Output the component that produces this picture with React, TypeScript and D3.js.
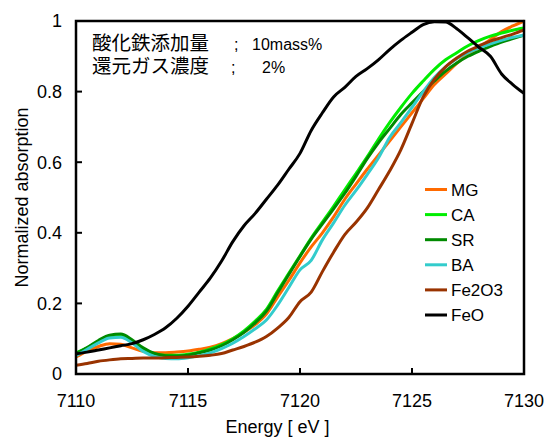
import { scaleLinear, line, curveMonotoneX } from 'd3'

const width = 547
const height = 439

const margin = { top: 21, right: 23, bottom: 65, left: 76 }

// energy grid [eV]
const energy = [
  7110, 7110.5, 7111, 7111.5, 7112, 7112.5, 7113, 7113.5, 7114, 7114.5,
  7115, 7115.5, 7116, 7116.5, 7117, 7117.5, 7118, 7118.5, 7119, 7119.5,
  7120, 7120.5, 7121, 7121.5, 7122, 7122.5, 7123, 7123.5, 7124, 7124.5,
  7125, 7125.5, 7126, 7126.5, 7127, 7127.5, 7128, 7128.5, 7129, 7129.5, 7130
]

const mg = [
  0.048, 0.065, 0.078, 0.086, 0.084, 0.074, 0.064, 0.060, 0.060, 0.062,
  0.065, 0.070, 0.076, 0.086, 0.100, 0.118, 0.140, 0.170, 0.218, 0.265,
  0.315, 0.360, 0.400, 0.445, 0.495, 0.538, 0.580, 0.620, 0.660, 0.700,
  0.740, 0.780, 0.820, 0.850, 0.880, 0.905, 0.925, 0.948, 0.970, 0.986, 1.0
]

const ca = [
  0.060, 0.074, 0.092, 0.104, 0.106, 0.092, 0.070, 0.057, 0.053, 0.053,
  0.056, 0.062, 0.071, 0.083, 0.100, 0.122, 0.150, 0.183, 0.235, 0.285,
  0.335, 0.385, 0.430, 0.475, 0.522, 0.568, 0.615, 0.665, 0.712, 0.755,
  0.795, 0.830, 0.863, 0.890, 0.910, 0.930, 0.945, 0.957, 0.966, 0.974, 0.980
]

const sr = [
  0.058, 0.075, 0.095, 0.110, 0.113, 0.097, 0.074, 0.058, 0.052, 0.051,
  0.053, 0.060, 0.068, 0.080, 0.097, 0.118, 0.145, 0.178, 0.230, 0.282,
  0.333, 0.382, 0.425, 0.468, 0.512, 0.560, 0.610, 0.655, 0.695, 0.735,
  0.768, 0.800, 0.830, 0.858, 0.881, 0.900, 0.915, 0.928, 0.940, 0.950, 0.960
]

const ba = [
  0.052, 0.070, 0.088, 0.102, 0.104, 0.088, 0.064, 0.050, 0.044, 0.043,
  0.046, 0.052, 0.060, 0.072, 0.087, 0.106, 0.128, 0.153, 0.195, 0.245,
  0.295, 0.322, 0.380, 0.428, 0.478, 0.520, 0.565, 0.612, 0.670, 0.712,
  0.755, 0.800, 0.840, 0.870, 0.893, 0.910, 0.924, 0.935, 0.945, 0.954, 0.960
]

const fe2o3 = [
  0.025, 0.030, 0.036, 0.040, 0.043, 0.044, 0.045, 0.045, 0.046, 0.047,
  0.048, 0.050, 0.053, 0.058, 0.068, 0.078, 0.090, 0.106, 0.130, 0.160,
  0.205, 0.232, 0.290, 0.345, 0.395, 0.430, 0.470, 0.522, 0.575, 0.635,
  0.710, 0.785, 0.835, 0.870, 0.895, 0.915, 0.930, 0.943, 0.953, 0.963, 0.975
]

const feo = [
  0.057, 0.062, 0.068, 0.074, 0.080, 0.086, 0.097, 0.112, 0.131, 0.158,
  0.192, 0.232, 0.272, 0.320, 0.375, 0.420, 0.455, 0.495, 0.535, 0.580,
  0.625, 0.690, 0.740, 0.785, 0.812, 0.843, 0.865, 0.890, 0.919, 0.945,
  0.968, 0.990, 0.998, 0.997, 0.978, 0.952, 0.925, 0.900, 0.850, 0.820, 0.795
]

const seriesNames = ['MG', 'CA', 'SR', 'BA', 'Fe2O3', 'FeO']
const seriesValues = [mg, ca, sr, ba, fe2o3, feo]
const seriesColors = ['#ff6a00', '#00ee00', '#008a00', '#33cccc', '#993300', '#000000']

const xTicks = [7110, 7115, 7120, 7125, 7130]
const yTicks = [0, 0.2, 0.4, 0.6, 0.8, 1]

const noteLabels = ['酸化鉄添加量', '還元ガス濃度']
const noteValues = ['10mass%', '2%']

const font = '"Liberation Sans", Arial, sans-serif'
const jpFont = '"Noto Sans CJK JP", sans-serif'

function App() {
  const innerWidth = width - margin.left - margin.right
  const innerHeight = height - margin.top - margin.bottom

  const xScale = scaleLinear().domain([7110, 7130]).range([0, innerWidth])
  const yScale = scaleLinear().domain([0, 1]).range([innerHeight, 0])

  const lineGen = line<number>()
    .x((_, i) => xScale(energy[i]))
    .y((d) => yScale(d))
    .curve(curveMonotoneX)

  return (
    <svg
      width={width}
      height={height}
      style={{ position: 'absolute', left: 0, top: 0, background: '#fff' }}
    >
      <defs>
        <clipPath id="plot-clip">
          <rect x={0} y={-2} width={innerWidth} height={innerHeight + 2} />
        </clipPath>
      </defs>
      <g transform={`translate(${margin.left},${margin.top})`}>
        <g clipPath="url(#plot-clip)">
          {seriesValues.map((vals, i) => (
            <path
              key={seriesNames[i]}
              d={lineGen(vals) ?? ''}
              fill="none"
              stroke={seriesColors[i]}
              strokeWidth={3}
              strokeLinejoin="round"
            />
          ))}
        </g>

        {/* frame */}
        <rect
          x={0}
          y={0}
          width={innerWidth}
          height={innerHeight}
          fill="none"
          stroke="#000"
          strokeWidth={2.5}
        />

        {xTicks.map((t) => (
          <g key={t} transform={`translate(${xScale(t)},0)`}>
            <line y1={innerHeight} y2={innerHeight - 6} stroke="#000" strokeWidth={2} />
            <text
              y={innerHeight + 33}
              textAnchor="middle"
              fontFamily={font}
              fontSize={18}
            >{t}</text>
          </g>
        ))}
        <text
          x={xScale(7119)}
          y={innerHeight + 59}
          textAnchor="middle"
          fontFamily={font}
          fontSize={18}
        >Energy [ eV ]</text>

        {yTicks.map((t) => (
          <g key={t} transform={`translate(0,${yScale(t)})`}>
            <line x2={6} stroke="#000" strokeWidth={2} />
            <text
              x={-14}
              dy="0.35em"
              textAnchor="end"
              fontFamily={font}
              fontSize={18}
            >{t}</text>
          </g>
        ))}
        <text
          transform={`translate(-48,${innerHeight / 2}) rotate(-90)`}
          textAnchor="middle"
          fontFamily={font}
          fontSize={18}
        >Normalized absorption</text>

        {/* legend */}
        {seriesNames.map((name, i) => (
          <g key={name} transform={`translate(349,${168.5 + i * 25.1})`}>
            <line x1={0} x2={22} stroke={seriesColors[i]} strokeWidth={3} />
            <text x={26} dy="0.36em" fontFamily={font} fontSize={17}>{name}</text>
          </g>
        ))}

        {/* condition note */}
        {noteLabels.map((label, i) => (
          <text key={label} y={29 + i * 23} fontFamily={font} fontSize={16}>
            <tspan x={16} fontFamily={jpFont} fontSize={19.5}>{label}</tspan>
            <tspan x={i === 0 ? 158 : 155}>;</tspan>
            <tspan x={i === 0 ? 176 : 186}>{noteValues[i]}</tspan>
          </text>
        ))}
      </g>
    </svg>
  )
}

export default App
